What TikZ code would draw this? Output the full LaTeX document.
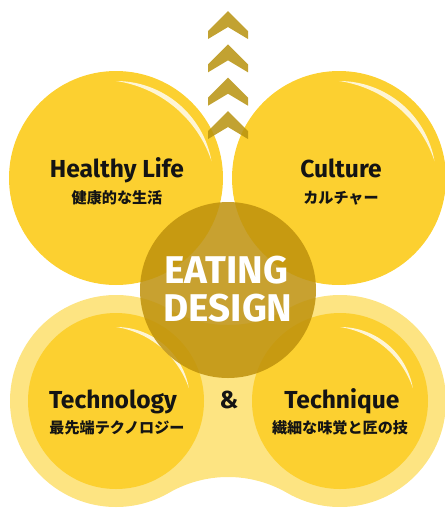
\documentclass[tikz,border=0pt]{standalone}
\usepackage{fontspec}
\setmainfont{Fira Sans}
\newfontfamily\jpfont{Noto Sans CJK JP}
\usetikzlibrary{calc}

\definecolor{sunyellow}{RGB}{252,208,48}
\definecolor{paleyellow}{RGB}{253,228,130}
\definecolor{coregold}{RGB}{190,145,12}
\definecolor{chevgold}{RGB}{183,146,14}

\tikzset{
  title/.style={font=\bfseries\fontsize{14}{16}\selectfont, text=black!92, inner sep=0, anchor=base},
  subtitle/.style={font=\jpfont\bfseries\fontsize{8.6}{10}\selectfont, text=black!92, inner sep=0},
  coretext/.style={font=\bfseries\fontsize{22}{24}\selectfont, text=white, inner sep=0, anchor=base},
  chevron/.style={fill=chevgold, fill opacity=0.85},
}

% white crescent: centre, outer radius, inner radius, half angle of inner arc
\newcommand{\glare}[4]{%
  \fill[white, opacity=0.8] ($(#1)+(90:#2)$) arc[start angle=90, end angle=10, radius=#2]
    arc[start angle=50-#4, end angle=50+#4, radius=#3] -- cycle;}

\begin{document}
\begin{tikzpicture}[x=0.02cm,y=0.02cm]
\useasboundingbox (0,0) rectangle (444,-508);

\coordinate (tl) at (116,-178);
\coordinate (tr) at (339,-178);
\coordinate (bl) at (116,-401);
\coordinate (br) at (340,-401);
\coordinate (core) at (228,-290);

% pale band behind the lower pair
\fill[paleyellow] ($(bl)+(60:106)$) arc[start angle=60, end angle=300, radius=106]
  arc[start angle=120, end angle=60, radius=118]
  arc[start angle=-120, end angle=120, radius=106]
  arc[start angle=-60, end angle=-120, radius=118] -- cycle;

\fill[sunyellow] (bl) circle (88);
\fill[sunyellow] (br) circle (88);
\glare{bl}{74}{91.7}{31.25}
\glare{br}{74}{91.7}{31.25}

\fill[sunyellow] (tl) circle (107);
\fill[sunyellow] (tr) circle (107);
\glare{tl}{97}{118.7}{31.7}
\glare{tr}{97}{118.7}{31.7}

% arrow of chevrons
\foreach \t in {11,44.3,77.7,111}
  \fill[chevron] (228,-\t) -- (248,-\t-20) -- (248,-\t-28) -- (228,-\t-16)
    -- (208,-\t-28) -- (208,-\t-20) -- cycle;

\fill[coregold, fill opacity=0.85] (core) circle (88);

\node[title] (health) at (117,-177) {Healthy Life};
\node[subtitle] (healthjp) at (117,-198) {健康的な生活};
\node[title] (culture) at (341,-177) {Culture};
\node[subtitle] (culturejp) at (341,-198) {カルチャー};

\node[coretext] (eating) at (226,-283) {EATING};
\node[coretext] (design) at (228,-321) {DESIGN};

\node[title] (tech) at (113,-408) {Technology};
\node[subtitle] (techjp) at (117,-428) {最先端テクノロジー};
\node[title] (amp) at (229,-408) {\&};
\node[title] (craft) at (342,-408) {Technique};
\node[subtitle] (craftjp) at (340,-428) {繊細な味覚と匠の技};

\end{tikzpicture}
\end{document}
